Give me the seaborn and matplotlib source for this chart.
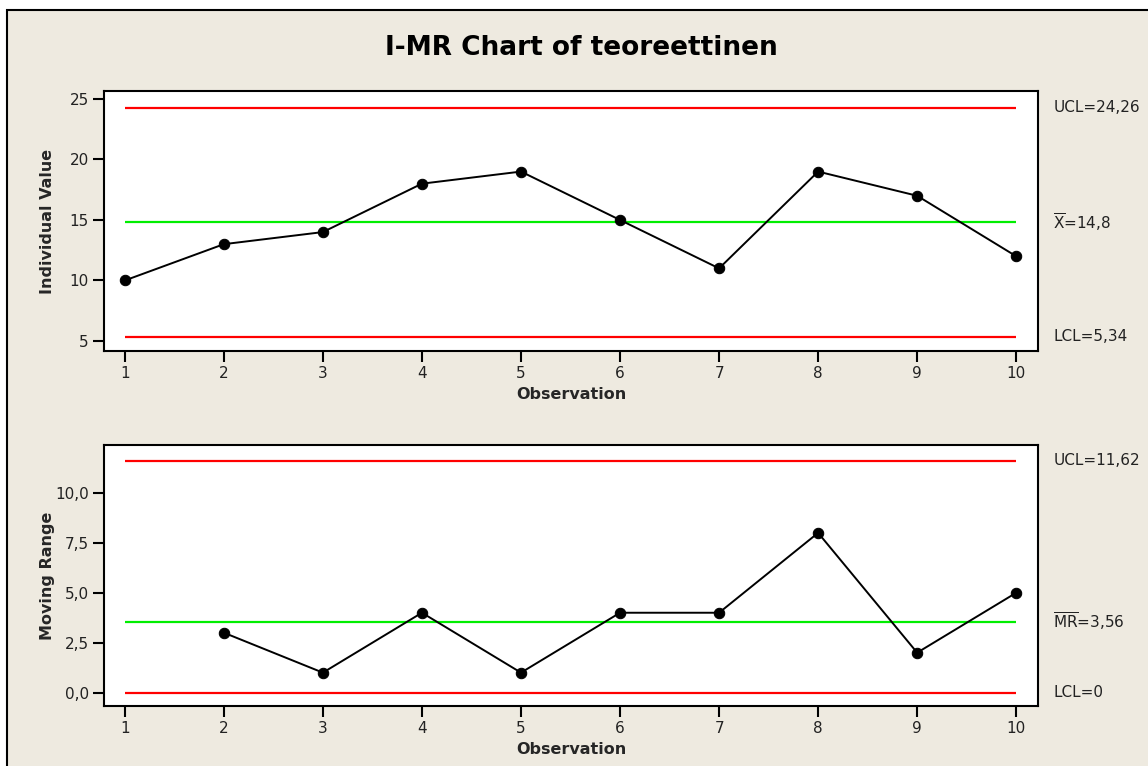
import numpy as np
import pandas as pd
import matplotlib
matplotlib.use("Agg")
import matplotlib.pyplot as plt
from matplotlib.patches import Rectangle
from matplotlib.ticker import FixedLocator, FuncFormatter
import seaborn as sns

# Data
observations = [1, 2, 3, 4, 5, 6, 7, 8, 9, 10]
individual_values = [10, 13, 14, 18, 19, 15, 11, 19, 17, 12]
mr_observations = [2, 3, 4, 5, 6, 7, 8, 9, 10]
moving_ranges = [3, 1, 4, 1, 4, 4, 8, 2, 5]

i_limits = {"UCL": 24.26, "CL": 14.8, "LCL": 5.34}
mr_limits = {"UCL": 11.62, "CL": 3.56, "LCL": 0.0}

i_yticks = [5, 10, 15, 20, 25]
mr_yticks = [0.0, 2.5, 5.0, 7.5, 10.0]

title = "I-MR Chart of teoreettinen"

sns.set_theme(style="white")
plt.rcParams["font.family"] = ["DejaVu Sans"]
plt.rcParams["mathtext.default"] = "regular"

W, H = 1148, 766
fig = plt.figure(figsize=(W / 100, H / 100), dpi=100, facecolor="white")
beige = "#EEEAE0"
fig.patches.append(Rectangle((7 / W, -0.1), 1.2, 1.1 - 10 / H,
                             transform=fig.transFigure, facecolor=beige,
                             edgecolor="black", linewidth=1.5, zorder=-10))


def px_axes(left, top, right, bottom):
    return fig.add_axes([left / W, 1 - bottom / H, (right - left) / W, (bottom - top) / H])


ax1 = px_axes(104, 91, 1038, 351)
ax2 = px_axes(104, 445, 1038, 706)

df_i = pd.DataFrame({"obs": observations, "val": individual_values})
df_mr = pd.DataFrame({"obs": mr_observations, "val": moving_ranges})


def draw_panel(ax, df, limits, yticks, ylim, ylabel, fmt, labels):
    ax.set_facecolor("white")
    for key, col in (("UCL", "#FF0000"), ("CL", "#00EE00"), ("LCL", "#FF0000")):
        ax.hlines(limits[key], observations[0], observations[-1], color=col, linewidth=1.6, zorder=1)
    sns.lineplot(data=df, x="obs", y="val", ax=ax, color="black", linewidth=1.4,
                 marker="o", markersize=7.5, markeredgecolor="black", zorder=3)
    ax.set_xlim(0.79, 10.22)
    ax.set_ylim(*ylim)
    ax.xaxis.set_major_locator(FixedLocator(observations))
    ax.yaxis.set_major_locator(FixedLocator(yticks))
    ax.yaxis.set_major_formatter(FuncFormatter(fmt))
    ax.tick_params(axis="both", which="major", direction="out", length=8, width=1.5,
                   color="black", labelsize=11, labelcolor="#222222", pad=3,
                   left=True, bottom=True)
    for s in ax.spines.values():
        s.set_color("black")
        s.set_linewidth(1.5)
        s.set_visible(True)
    ax.set_xlabel("Observation", fontsize=11.5, fontweight="bold")
    ax.set_ylabel(ylabel, fontsize=11.5, fontweight="bold")
    ax.xaxis.set_label_coords(0.5, -36 / 261)
    ax.yaxis.set_label_coords(-49 / 934, 0.5)
    for key in ("UCL", "CL", "LCL"):
        ax.annotate(labels[key], xy=(1.0, limits[key]), xycoords=("axes fraction", "data"),
                    xytext=(11, 0), textcoords="offset points", ha="left", va="center",
                    fontsize=11, color="#222222", annotation_clip=False)


draw_panel(ax1, df_i, i_limits, i_yticks, (4.17, 25.66), "Individual Value",
           lambda v, p: f"{v:.0f}",
           {"UCL": "UCL=24,26", "CL": r"$\overline{X}$=14,8", "LCL": "LCL=5,34"})
draw_panel(ax2, df_mr, mr_limits, mr_yticks, (-0.67, 12.4), "Moving Range",
           lambda v, p: f"{v:.1f}".replace(".", ","),
           {"UCL": "UCL=11,62", "CL": r"$\overline{MR}$=3,56", "LCL": "LCL=0"})

fig.text(581 / W, 1 - 48 / H, title, ha="center", va="center",
         fontsize=19, fontweight="bold", color="black")

fig.savefig("out.png", dpi=100, facecolor=fig.get_facecolor())
